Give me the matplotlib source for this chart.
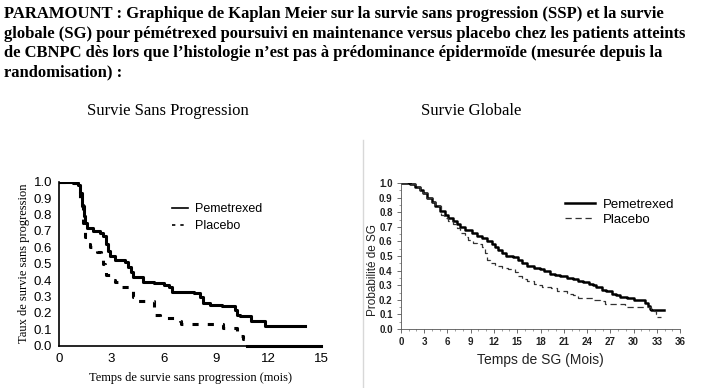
import matplotlib
matplotlib.use("Agg")
import matplotlib.pyplot as plt
from matplotlib.ticker import MultipleLocator
from matplotlib.lines import Line2D

# Survie sans progression (mois, probabilite)
ssp_pem_t = [0, 0.8, 1.1, 1.2, 1.3, 1.4, 1.47, 1.6, 1.95, 2.33, 2.5, 2.7, 2.8, 2.9, 3.2, 3.75, 3.95, 4.1, 4.25,
             4.8, 5.4, 6.0, 6.3, 6.45, 7.5, 7.7, 8.05, 8.25, 8.65, 9.3, 10.07, 10.17, 10.36, 11.0, 11.8, 14.1]
ssp_pem_s = [1.0, 0.99, 0.98, 0.93, 0.85, 0.79, 0.75, 0.72, 0.70, 0.69, 0.67, 0.62, 0.58, 0.55, 0.52, 0.51, 0.48, 0.45, 0.42,
             0.39, 0.38, 0.37, 0.36, 0.33, 0.33, 0.32, 0.30, 0.26, 0.25, 0.24, 0.22, 0.19, 0.18, 0.15, 0.12, 0.12]
ssp_pla_t = [0, 0.8, 1.1, 1.2, 1.35, 1.5, 1.6, 1.76, 2.15, 2.4, 2.5, 2.6, 2.7, 3.1, 3.2, 3.6, 4.05, 4.2, 4.4,
             5.4, 5.5, 5.8, 6.9, 7.0, 9.4, 10.17, 10.36, 10.55, 10.75]
ssp_pla_s = [1.0, 0.99, 0.97, 0.90, 0.75, 0.66, 0.62, 0.60, 0.57, 0.55, 0.50, 0.46, 0.43, 0.40, 0.39, 0.36, 0.35, 0.30, 0.27,
             0.23, 0.19, 0.17, 0.15, 0.13, 0.11, 0.09, 0.06, 0.04, 0.0]
# fin de la courbe placebo a zero (trait plein)
ssp_pla_fin_t = [10.75, 15.0]
ssp_pla_fin_s = [0.0, 0.0]

# Survie globale
sg_pem_t = [0, 1.16, 1.8, 2.45, 2.9, 3.3, 3.96, 4.4, 5.0, 5.7, 6.1, 6.75, 7.2, 7.6, 8.26, 9.1, 9.76, 10.4, 11.05, 11.7,
            12.1, 12.56, 13.0, 13.6, 14.5, 15.1, 15.6, 16.2, 17.1, 17.9, 18.4, 19.2, 19.9, 20.5, 21.4, 22.2, 22.9, 23.5,
            24.2, 24.8, 25.2, 25.9, 26.5, 27.2, 27.8, 28.3, 29.1, 30.0, 31.5, 31.9, 32.1, 32.3, 33.9]
sg_pem_s = [1.0, 0.99, 0.97, 0.95, 0.93, 0.90, 0.87, 0.84, 0.81, 0.78, 0.76, 0.74, 0.72, 0.70, 0.68, 0.66, 0.64, 0.62, 0.60, 0.58,
            0.56, 0.54, 0.52, 0.50, 0.49, 0.47, 0.45, 0.43, 0.42, 0.41, 0.40, 0.38, 0.37, 0.36, 0.35, 0.34, 0.33, 0.32,
            0.31, 0.30, 0.29, 0.27, 0.26, 0.24, 0.23, 0.22, 0.21, 0.20, 0.18, 0.16, 0.14, 0.13, 0.13]
sg_pla_t = [0, 1.16, 1.8, 2.45, 2.9, 3.3, 3.96, 4.4, 5.2, 5.5, 6.1, 6.75, 7.2, 7.6, 8.26, 8.7, 9.3, 9.76, 10.4, 10.8,
            11.05, 11.5, 12.1, 13.0, 13.8, 14.7, 15.1, 15.6, 16.2, 17.1, 17.5, 18.15, 19.4, 20.1, 21.4, 21.8, 22.2, 22.9,
            24.8, 25.7, 26.3, 28.9, 29.1, 32.3, 32.6, 32.9, 33.0, 33.6]
sg_pla_s = [1.0, 0.99, 0.97, 0.95, 0.93, 0.90, 0.87, 0.84, 0.78, 0.76, 0.74, 0.72, 0.69, 0.66, 0.63, 0.61, 0.59, 0.58, 0.56, 0.52,
            0.47, 0.45, 0.43, 0.42, 0.41, 0.39, 0.36, 0.34, 0.33, 0.31, 0.30, 0.29, 0.28, 0.26, 0.25, 0.24, 0.23, 0.21,
            0.20, 0.19, 0.17, 0.16, 0.15, 0.14, 0.12, 0.10, 0.08, 0.08]

titre = ["PARAMOUNT : Graphique de Kaplan Meier sur la survie sans progression (SSP) et la survie",
         "globale (SG) pour pémétrexed poursuivi en maintenance versus placebo chez les patients atteints",
         "de CBNPC dès lors que l\u2019histologie n\u2019est pas à prédominance épidermoïde (mesurée depuis la",
         "randomisation) :"]

serif = "Liberation Serif"
sans = "Liberation Sans"

fig = plt.figure(figsize=(7.01, 3.88), dpi=100)

# texte d'en-tete
for i, ligne in enumerate(titre):
    fig.text(0.006, 1 - (14 + i * 19.5) / 388, ligne, family=serif, weight="bold", fontsize=12,
             va="center", ha="left")
fig.text(87 / 701, 1 - 111 / 388, "Survie Sans Progression", family=serif, fontsize=12, va="center")
fig.text(421 / 701, 1 - 111 / 388, "Survie Globale", family=serif, fontsize=12, va="center")

# cadre gris a droite
fig.add_artist(Line2D([363 / 701, 363 / 701], [0, 1 - 140 / 388], transform=fig.transFigure,
                      color="#d8d8d8", lw=1))

# --- SSP ---
ax1 = fig.add_axes([59.3 / 701, 1 - 345.7 / 388, (321 - 59.3) / 701, (345.7 - 181.7) / 388])
ax1.step(ssp_pem_t, ssp_pem_s, where="post", color="black", lw=2.2, label="Pemetrexed")
ax1.step(ssp_pla_t, ssp_pla_s, where="post", color="black", lw=2.2, ls=(0, (2, 3)), label="Placebo")
ax1.plot(ssp_pla_fin_t, ssp_pla_fin_s, color="black", lw=2.2, clip_on=False)
ax1.set_xlim(0, 15)
ax1.set_ylim(0, 1.0)
ax1.set_xticks([0, 3, 6, 9, 12, 15])
ax1.set_yticks([i / 10 for i in range(11)])
ax1.set_yticklabels([f"{i / 10:.1f}" for i in range(11)])
ax1.tick_params(length=0, labelsize=9.5, pad=5)
for lab in ax1.get_xticklabels() + ax1.get_yticklabels():
    lab.set_family(sans)
ax1.spines["top"].set_visible(False)
ax1.spines["right"].set_visible(False)
ax1.spines["left"].set_linewidth(1.2)
ax1.spines["bottom"].set_linewidth(1.2)
ax1.set_ylabel("Taux de survie sans progression", family=serif, fontsize=9, labelpad=3)
ax1.set_xlabel("Temps de survie sans progression (mois)", family=serif, fontsize=9, labelpad=5)
leg1 = ax1.legend(loc="upper left", bbox_to_anchor=(0.41, 0.90), frameon=False, prop={"family": sans, "size": 9},
                  handlelength=1.3, handletextpad=0.6, labelspacing=0.4, borderaxespad=0)
for h in leg1.get_lines():
    h.set_linewidth(1.2)

# --- SG ---
ax2 = fig.add_axes([401 / 701, 1 - 329 / 388, (680 - 401) / 701, (329 - 183) / 388])
ax2.step(sg_pem_t, sg_pem_s, where="post", color="black", lw=1.8, label="Pemetrexed")
ax2.step(sg_pla_t, sg_pla_s, where="post", color="#333333", lw=0.9, ls=(0, (5, 3)), label="Placebo")
ax2.set_xlim(0, 36)
ax2.set_ylim(0, 1.0)
ax2.set_xticks(range(0, 37, 3))
ax2.xaxis.set_minor_locator(MultipleLocator(1))
ax2.set_yticks([i / 10 for i in range(11)])
ax2.set_yticklabels([f"{i / 10:.1f}" for i in range(11)])
ax2.yaxis.set_minor_locator(MultipleLocator(0.05))
ax2.tick_params(which="major", length=3, width=0.6, color="#555555", labelsize=7, labelcolor="#222222", pad=3)
ax2.tick_params(which="minor", length=1.5, width=0.5, color="#777777")
for lab in ax2.get_xticklabels() + ax2.get_yticklabels():
    lab.set_family(sans)
    lab.set_weight("bold")
ax2.spines["top"].set_visible(False)
ax2.spines["right"].set_visible(False)
ax2.spines["left"].set_linewidth(0.6)
ax2.spines["bottom"].set_linewidth(0.6)
ax2.spines["left"].set_color("#555555")
ax2.spines["bottom"].set_color("#555555")
ax2.set_xlabel("Temps de SG (Mois)", family=sans, fontsize=10, labelpad=4, color="#222222")
fig.text(373 / 701, 1 - 270 / 388, "Probabilité de SG", family=sans, fontsize=8.5, rotation=90,
         va="center", ha="center", color="#222222")
leg2 = ax2.legend(loc="upper left", bbox_to_anchor=(0.568, 0.93), frameon=False, prop={"family": sans, "size": 9.5},
                  handlelength=2.3, handletextpad=0.6, labelspacing=0.2, borderaxespad=0)
leg2.get_lines()[0].set_linewidth(1.8)
leg2.get_lines()[1].set_linewidth(0.9)

fig.savefig("out.png", dpi=100)
